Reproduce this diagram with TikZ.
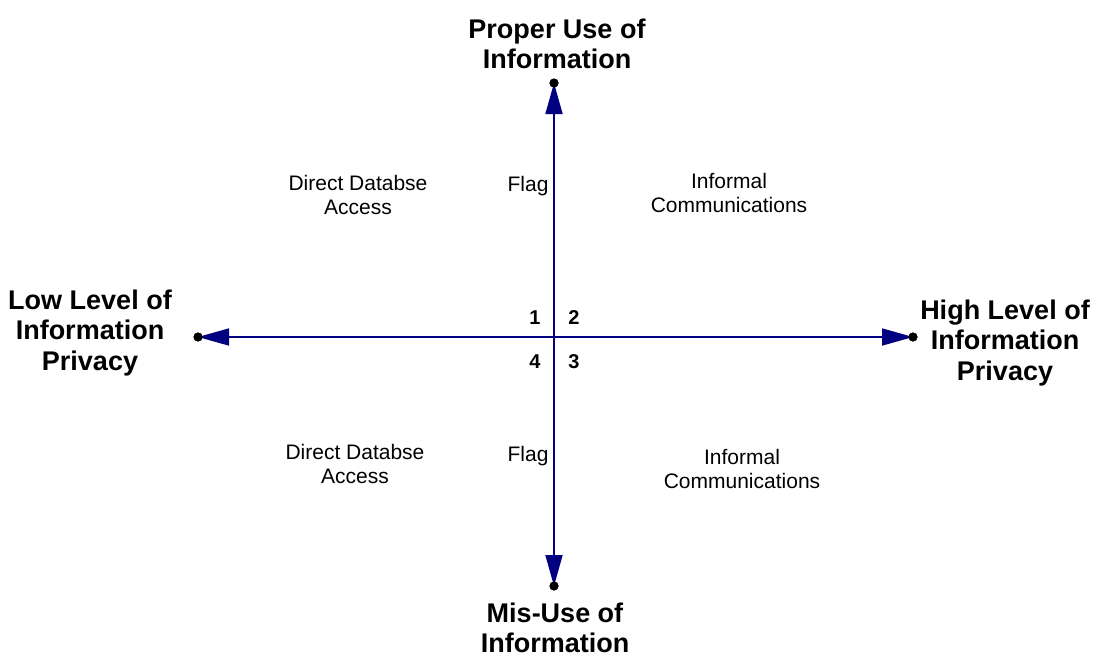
\documentclass[tikz,border=0pt]{standalone}
\usepackage{fontspec}
\setmainfont{Liberation Sans}
\usetikzlibrary{arrows.meta}
\definecolor{axisblue}{RGB}{0,0,128}
\begin{document}
\begin{tikzpicture}[x=1pt,y=-1pt,
  axis/.style={draw=axisblue,line width=1.6pt,-{Triangle[length=31pt,width=17pt]},fill=axisblue},
  enddot/.style={circle,fill=black,inner sep=0pt,minimum size=9pt},
  title/.style={font=\fontsize{27}{30.5}\selectfont\bfseries,align=center,inner sep=0pt},
  lbl/.style={font=\fontsize{21}{24.5}\selectfont,align=center,inner sep=0pt},
  num/.style={font=\fontsize{20}{24}\selectfont\bfseries,inner sep=0pt}]
\useasboundingbox (0,0) rectangle (1097,659);
\coordinate (c) at (554,337);
\node[enddot] (top) at (554,83) {};
\node[enddot] (bot) at (554,586) {};
\node[enddot] (lft) at (198,337) {};
\node[enddot] (rgt) at (913,337) {};
\draw[axis] (c) -- (top.center);
\draw[axis] (c) -- (bot.center);
\draw[axis] (c) -- (lft.center);
\draw[axis] (c) -- (rgt.center);
\node[enddot] at (top) {};
\node[enddot] at (bot) {};
\node[enddot] at (lft) {};
\node[enddot] at (rgt) {};
\node[title] (tt) at (557,44) {Proper Use of\\Information};
\node[title] (bt) at (555,628) {Mis-Use of\\Information};
\node[title] (lt) at (90,333) {Low Level of\\Information\\Privacy};
\node[title] (rt) at (1005,343) {High Level of\\Information\\Privacy};
\node[lbl] (dda1) at (358,195) {Direct Databse\\Access};
\node[lbl] (ic1) at (729,193) {Informal\\Communications};
\node[lbl] (fl1) at (528,186) {Flag};
\node[lbl] (dda2) at (355,464) {Direct Databse\\Access};
\node[lbl] (ic2) at (742,469) {Informal\\Communications};
\node[lbl] (fl2) at (528,456) {Flag};
\node[num] (n1) at (535,318) {1};
\node[num] (n2) at (574,318) {2};
\node[num] (n4) at (535,362) {4};
\node[num] (n3) at (574,362) {3};
\end{tikzpicture}
\end{document}
